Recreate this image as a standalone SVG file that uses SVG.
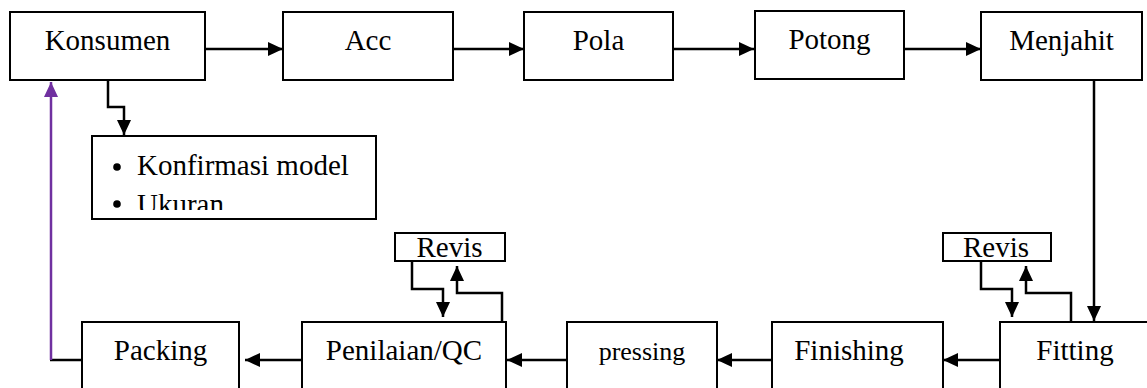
<svg xmlns="http://www.w3.org/2000/svg" width="1147" height="388" viewBox="0 0 1147 388">
  <style>
    .box { fill: #ffffff; stroke: #000000; stroke-width: 2; }
    .lbl { font-family: "Liberation Serif", "Times New Roman", serif; font-size: 29px; fill: #000000; text-anchor: middle; }
    .lbl-s { font-size: 26px; }
    .lbl-l { text-anchor: start; }
    .wire { fill: none; stroke: #000000; stroke-width: 2.5; }
    .wire-back { fill: none; stroke: #7030A0; stroke-width: 2.5; }
  </style>
  <defs>
    <marker id="arrow" viewBox="0 0 15 14" refX="15" refY="7" markerWidth="15" markerHeight="14" markerUnits="userSpaceOnUse" orient="auto">
      <path d="M0,0 L15,7 L0,14 Z" fill="#000000"/>
    </marker>
    <marker id="arrow-back" viewBox="0 0 15 14" refX="15" refY="7" markerWidth="15" markerHeight="14" markerUnits="userSpaceOnUse" orient="auto">
      <path d="M0,0 L15,7 L0,14 Z" fill="#7030A0"/>
    </marker>
    <clipPath id="note-clip">
      <rect x="93" y="137" width="282" height="73"/>
    </clipPath>
  </defs>

  <rect width="1147" height="388" fill="#ffffff"/>

  <!-- connectors -->
  <g id="connectors">
    <!-- top row, left to right -->
    <line class="wire" x1="205" y1="49" x2="283" y2="49" marker-end="url(#arrow)"/>
    <line class="wire" x1="453" y1="49" x2="524" y2="49" marker-end="url(#arrow)"/>
    <line class="wire" x1="673" y1="49" x2="754" y2="49" marker-end="url(#arrow)"/>
    <line class="wire" x1="903" y1="49" x2="981" y2="49" marker-end="url(#arrow)"/>
    <!-- Konsumen to note -->
    <polyline class="wire" points="108,80 108,107 124,107 124,135" marker-end="url(#arrow)"/>
    <!-- Menjahit down to Fitting -->
    <line class="wire" x1="1094" y1="80" x2="1094" y2="321" marker-end="url(#arrow)"/>
    <!-- bottom row, right to left -->
    <line class="wire" x1="1000" y1="360" x2="943" y2="360" marker-end="url(#arrow)"/>
    <line class="wire" x1="772" y1="360" x2="717" y2="360" marker-end="url(#arrow)"/>
    <line class="wire" x1="567" y1="360" x2="507" y2="360" marker-end="url(#arrow)"/>
    <line class="wire" x1="302" y1="360" x2="245" y2="360" marker-end="url(#arrow)"/>
    <!-- revision loop at QC -->
    <polyline class="wire" points="412,261 412,289 443,289 443,317" marker-end="url(#arrow)"/>
    <polyline class="wire" points="502,322 502,293 457,293 457,266" marker-end="url(#arrow)"/>
    <!-- revision loop at Fitting -->
    <polyline class="wire" points="981,261 981,289 1012,289 1012,317" marker-end="url(#arrow)"/>
    <polyline class="wire" points="1071,322 1071,293 1026,293 1026,266" marker-end="url(#arrow)"/>
    <!-- Packing back to Konsumen -->
    <line class="wire" x1="82" y1="360" x2="50" y2="360"/>
    <line class="wire-back" x1="51" y1="360" x2="51" y2="82" marker-end="url(#arrow-back)"/>
  </g>

  <!-- top row -->
  <g id="node-konsumen">
    <rect class="box" x="10" y="12" width="195" height="68"/>
    <text class="lbl" x="107.5" y="50">Konsumen</text>
  </g>
  <g id="node-acc">
    <rect class="box" x="283" y="12" width="170" height="68"/>
    <text class="lbl" x="368" y="50">Acc</text>
  </g>
  <g id="node-pola">
    <rect class="box" x="524" y="12" width="149" height="68"/>
    <text class="lbl" x="598.5" y="50">Pola</text>
  </g>
  <g id="node-potong">
    <rect class="box" x="755" y="11" width="149" height="68"/>
    <text class="lbl" x="829.5" y="49">Potong</text>
  </g>
  <g id="node-menjahit">
    <rect class="box" x="981" y="12" width="161" height="68"/>
    <text class="lbl" x="1061.5" y="50">Menjahit</text>
  </g>

  <!-- note with bullet list -->
  <g id="node-note">
    <rect class="box" x="92" y="136" width="284" height="83"/>
    <g clip-path="url(#note-clip)">
      <circle cx="117" cy="167" r="3.8" fill="#000000"/>
      <text class="lbl lbl-l" x="137" y="175">Konfirmasi model</text>
      <circle cx="117" cy="204" r="3.8" fill="#000000"/>
      <text class="lbl lbl-l" x="137" y="214">Ukuran</text>
    </g>
  </g>

  <!-- revision boxes -->
  <g id="node-revis-qc">
    <rect class="box" x="395" y="233" width="110" height="28"/>
    <text class="lbl" x="449.5" y="257">Revis</text>
  </g>
  <g id="node-revis-fitting">
    <rect class="box" x="943" y="233" width="108" height="28"/>
    <text class="lbl" x="996" y="257">Revis</text>
  </g>

  <!-- bottom row -->
  <g id="node-packing">
    <rect class="box" x="82" y="322" width="157" height="70"/>
    <text class="lbl" x="160.5" y="360">Packing</text>
  </g>
  <g id="node-penilaian">
    <rect class="box" x="302" y="322" width="204" height="70"/>
    <text class="lbl" x="404" y="360">Penilaian/QC</text>
  </g>
  <g id="node-pressing">
    <rect class="box" x="567" y="322" width="150" height="70"/>
    <text class="lbl lbl-s" x="642" y="360">pressing</text>
  </g>
  <g id="node-finishing">
    <rect class="box" x="772" y="322" width="171" height="70"/>
    <text class="lbl" x="849" y="360">Finishing</text>
  </g>
  <g id="node-fitting">
    <rect class="box" x="1000" y="322" width="150" height="70"/>
    <text class="lbl" x="1075" y="360">Fitting</text>
  </g>
</svg>
